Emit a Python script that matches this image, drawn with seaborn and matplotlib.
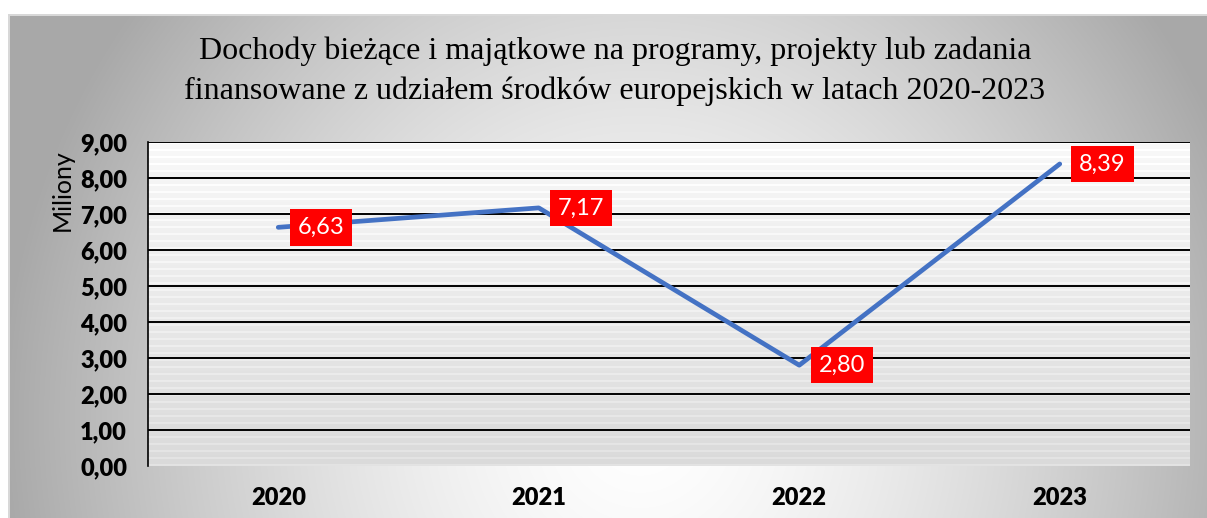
import numpy as np
import matplotlib
matplotlib.use("Agg")
import matplotlib.pyplot as plt
import seaborn as sns
import pandas as pd

# dane
lata = ["2020", "2021", "2022", "2023"]
wartosci = [6.63, 7.17, 2.80, 8.39]
etykiety = ["6,63", "7,17", "2,80", "8,39"]
y_ticki = [0, 1, 2, 3, 4, 5, 6, 7, 8, 9]
y_etykiety = ["0,00", "1,00", "2,00", "3,00", "4,00", "5,00", "6,00", "7,00", "8,00", "9,00"]
tytul = ("Dochody bieżące i majątkowe na programy, projekty lub zadania\n"
         "finansowane z udziałem środków europejskich w latach 2020-2023")

df = pd.DataFrame({"Rok": lata, "Wartosc": wartosci})

sns.set_theme(style="white")
plt.rcParams["font.family"] = ["Lato", "DejaVu Sans"]

W, H = 1207, 518
fig = plt.figure(figsize=(W / 100, H / 100), dpi=100)

# tło wykresu - gradient radialny
bg = fig.add_axes([0, 0, 1, 1])
yy, xx = np.mgrid[0:H, 0:W]
d = np.sqrt(((xx - 640) / 640.0) ** 2 + ((yy - 420) / 680.0) ** 2)
val = 1 - 0.34 * np.clip(d, 0, 1) ** 1.5
img = np.dstack([val, val, val])
img[:14, :, :] = 1.0
img[:, :8, :] = 1.0
img[14:16, 8:, :] = 0.85
img[14:, 8:10, :] = 0.85
bg.imshow(img, aspect="auto", extent=(0, W, H, 0))
bg.set_xlim(0, W)
bg.set_ylim(H, 0)
bg.axis("off")

# obszar wykresu
ax = fig.add_axes([148 / W, (H - 466) / H, (1190 - 148) / W, (466 - 142) / H])
rows = 324
col = np.linspace(0.975, 0.855, rows)
stripes = np.zeros(rows)
stripes[(np.arange(rows) % 7) < 2] = 0.035
pv = np.clip(col + stripes, 0, 1)[:, None]
pimg = np.dstack([pv, pv, pv])
ax.imshow(pimg, aspect="auto", extent=(-0.5, 3.5, 0, 9), zorder=0)

sns.lineplot(data=df, x="Rok", y="Wartosc", ax=ax, color="#4472C4",
             linewidth=3.4, zorder=3, solid_capstyle="round")

for i, (v, t) in enumerate(zip(wartosci, etykiety)):
    ax.annotate(t, xy=(i, v), xytext=(14, 0), textcoords="offset points",
                ha="left", va="center", color="white", fontsize=17,
                bbox=dict(boxstyle="square,pad=0.33", fc="#FF0000", ec="none"),
                zorder=5)

ax.set_xlim(-0.5, 3.5)
ax.set_ylim(0, 9)
ax.set_yticks(y_ticki)
ax.set_yticklabels(y_etykiety, fontsize=17, fontweight="heavy", color="black")
ax.set_xticks(range(len(lata)))
ax.set_xticklabels(lata, fontsize=17, fontweight="heavy", color="black")
ax.tick_params(axis="x", length=0, pad=15)
ax.tick_params(axis="y", length=0, pad=15)
for y in y_ticki[1:]:
    ax.axhline(y, color="black", linewidth=1.4, zorder=2)
for s in ["top", "right", "bottom"]:
    ax.spines[s].set_visible(False)
ax.spines["left"].set_color("black")
ax.spines["left"].set_linewidth(1.2)
ax.set_xlabel("")
ax.set_ylabel("Miliony", fontsize=18, color="black")
ax.yaxis.set_label_coords((74 - 148) / 1042, (466 - 190) / 324)

fig.text(615 / W, 1 - 71 / H, tytul, ha="center", va="center", color="black",
         fontsize=23, family="Liberation Serif", linespacing=1.45)

plt.savefig("out.png", dpi=100)
